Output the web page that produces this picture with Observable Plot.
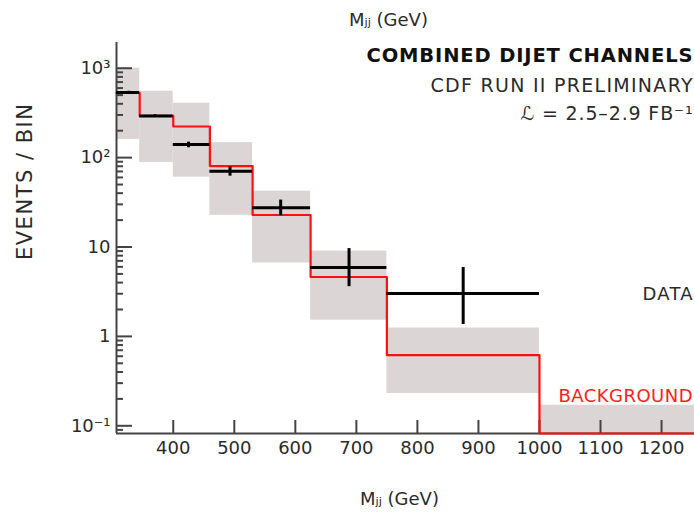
<!DOCTYPE html>
<html>
<head>
<meta charset="utf-8">
<script src="https://cdn.jsdelivr.net/npm/d3@7"></script>
<script src="https://cdn.jsdelivr.net/npm/@observablehq/plot@0.6"></script>
<style>
  html, body { margin: 0; padding: 0; background: #fff; overflow: hidden; }
  #chart svg { display: block; }
</style>
</head>
<body>
<div id="chart"></div>
<script>
// ---- data ----
const xDomain = [307, 1254];
const yDomain = [0.082, 1940];
const binEdges = [307, 345, 400, 460, 530, 625, 750, 1000, 1254];
const background = [530, 294, 223, 80.4, 22.8, 4.62, 0.617, 0.082];
const bkgHigh = [1000, 553, 406, 147, 42.2, 9.02, 1.24, 0.17];
const bkgLow = [160, 88.4, 60.5, 22.6, 6.63, 1.52, 0.23, 0.082];
const dataX = [327, 370, 425, 493, 576, 688, 875];
const dataY = [535, 292, 140, 70.6, 27.5, 5.89, 3.02];
const dataLow = [518, 283, 129, 62, 22.4, 3.6, 1.36];
const dataHigh = [552, 301, 149, 79, 33.5, 9.6, 5.89];
const xTicks = [400, 500, 600, 700, 800, 900, 1000, 1100, 1200];
const yMajorTicks = [0.1, 1, 10, 100, 1000];
const yTickLabels = ["10\u207B\u00B9", "1", "10", "10\u00B2", "10\u00B3"];
const yMinorTicks = [0.09,
  0.2,0.3,0.4,0.5,0.6,0.7,0.8,0.9,
  2,3,4,5,6,7,8,9,
  20,30,40,50,60,70,80,90,
  200,300,400,500,600,700,800,900];
const titleLines = ["COMBINED DIJET CHANNELS", "CDF RUN II PRELIMINARY", "\u2112 = 2.5\u20132.9 FB\u207B\u00B9"];
const xLabel = "M\u2C7C\u2C7C (GeV)";
const yLabel = "EVENTS / BIN";
const dataLabel = "DATA";
const bkgLabel = "BACKGROUND";

// ---- tables built from the arrays ----
const bins = background.map((v, i) => ({
  x1: binEdges[i], x2: binEdges[i + 1], y: v, lo: bkgLow[i], hi: bkgHigh[i]
}));
const stepPts = bins.map(b => ({x: b.x1, y: b.y}))
  .concat([{x: bins[bins.length - 1].x2, y: bins[bins.length - 1].y}]);
const points = dataX.map((x, i) => ({
  x, y: dataY[i], lo: dataLow[i], hi: dataHigh[i],
  x1: binEdges[i], x2: binEdges[i + 1]
}));

const font = "'DejaVu Sans', sans-serif";
const ink = "#2a2a2a";
const axisInk = "#444";

const chart = Plot.plot({
  width: 694,
  height: 512,
  marginLeft: 116,
  marginRight: 0,
  marginTop: 42,
  marginBottom: 79,
  x: {domain: xDomain},
  y: {type: "log", domain: yDomain},
  style: {fontFamily: font, fontSize: "18px", color: ink, background: "#fff"},
  marks: [
    Plot.rect(bins, {x1: "x1", x2: "x2", y1: "lo", y2: "hi", fill: "#dcd5d5"}),
    Plot.ruleX([xDomain[0]], {stroke: axisInk, strokeWidth: 2}),
    Plot.ruleY([yDomain[0]], {stroke: axisInk, strokeWidth: 2}),
    Plot.axisY(yMajorTicks, {tickSize: 16, dx: 16, tickFormat: () => "", label: null, stroke: axisInk, strokeWidth: 2}),
    Plot.axisY(yMinorTicks, {tickSize: 7, dx: 7, tickFormat: () => "", label: null, stroke: axisInk, strokeWidth: 2}),
    Plot.axisY(yMajorTicks, {tickSize: 0, tickPadding: 6, tickFormat: d => yTickLabels[yMajorTicks.indexOf(d)], label: null, fill: ink, fontSize: 18}),
    Plot.axisX(xTicks, {tickSize: 13, dy: -13, tickFormat: () => "", label: null, stroke: axisInk, strokeWidth: 2}),
    Plot.axisX(xTicks, {tickSize: 0, tickPadding: 8, tickFormat: d => String(d), label: null, fill: ink, fontSize: 18}),
    Plot.line(stepPts, {x: "x", y: "y", curve: "step-after", stroke: "#ff1010", strokeWidth: 2.2}),
    Plot.ruleY(points, {x1: "x1", x2: "x2", y: "y", stroke: "#000", strokeWidth: 3}),
    Plot.ruleX(points, {x: "x", y1: "lo", y2: "hi", stroke: "#000", strokeWidth: 3}),
    Plot.text([titleLines[0]], {frameAnchor: "top-right", dx: -2, dy: 13, textAnchor: "end", lineAnchor: "middle", fontWeight: "bold", fontSize: 19.5, fill: "#111"}),
    Plot.text([titleLines[1]], {frameAnchor: "top-right", dx: -2, dy: 43, textAnchor: "end", lineAnchor: "middle", fontSize: 19, fill: ink}),
    Plot.text([titleLines[2]], {frameAnchor: "top-right", dx: -2, dy: 71, textAnchor: "end", lineAnchor: "middle", fontSize: 19, fill: ink}),
    Plot.text([dataLabel], {frameAnchor: "right", dx: -2, dy: 56, textAnchor: "end", lineAnchor: "middle", fontSize: 18, fill: ink}),
    Plot.text([bkgLabel], {frameAnchor: "right", dx: -2, dy: 158, textAnchor: "end", lineAnchor: "middle", fontSize: 18, fill: "#ff2020"}),
    Plot.text([xLabel], {frameAnchor: "bottom", dx: -6, dy: 66, lineAnchor: "middle", fontSize: 18, fill: ink}),
    Plot.text([xLabel], {frameAnchor: "top", dx: -17, dy: -22, lineAnchor: "middle", fontSize: 18, fill: ink}),
    Plot.text([yLabel], {frameAnchor: "left", dx: -91, dy: 22, rotate: -90, lineAnchor: "middle", fontSize: 21, fill: ink})
  ]
});
document.getElementById("chart").appendChild(chart);

// stretch text to the widths seen in the reference
const textWidths = new Map([
  [titleLines[0], 326], [titleLines[1], 262], [titleLines[2], 172],
  [bkgLabel, 134], [dataLabel, 50], [yLabel, 156]
]);
d3.select(chart).selectAll("text").each(function () {
  const w = textWidths.get(this.textContent);
  if (w) d3.select(this).attr("textLength", w).attr("lengthAdjust", "spacing");
});
</script>
</body>
</html>
